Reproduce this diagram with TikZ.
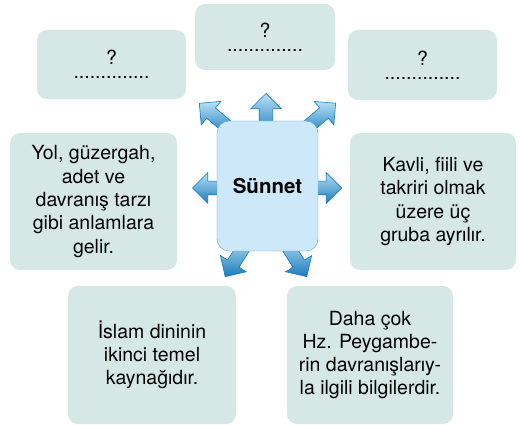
\documentclass[tikz,border=0pt]{standalone}
\usepackage{fontspec}
\setmainfont{TeX Gyre Heros}
\usepackage{tikz}
\usetikzlibrary{shapes,shapes.arrows}

\definecolor{boxfill}{HTML}{D5E8E6}
\definecolor{mainfill}{HTML}{CDE8F8}
\definecolor{mainline}{HTML}{4FA6D6}
\definecolor{arrowdark}{HTML}{1A7BBD}
\definecolor{arrowlight}{HTML}{B8E0F5}

\begin{document}
\begin{tikzpicture}[x=1pt,y=-1pt]
    \newcommand{\qdots}{?\\[-9pt]..............}
    \tikzstyle{box}=[
      rectangle,
      rounded corners=10pt,
      fill=boxfill,
      align=center,
      inner sep=0pt,
      font=\fontsize{19.5}{23.3}\selectfont,
    ]
    \tikzstyle{mainbox}=[
      rectangle,
      rounded corners=12pt,
      fill=mainfill,
      draw=mainline,
      thin,
      minimum width=101pt,
      minimum height=130pt,
      font=\fontsize{20.5}{24}\selectfont\bfseries,
    ]
    \tikzstyle{fatarrow}=[
      single arrow,
      anchor=tip,
      inner sep=6.5pt,
      minimum height=42pt,
      single arrow head extend=8.5pt,
      top color=arrowlight,
      bottom color=arrowdark,
      draw=arrowdark,
      semithick,
    ]

    \useasboundingbox (0,0) rectangle (520,425);

    \node[fatarrow,rotate=90] (a1) at (266,93) {};
    \node[fatarrow,rotate=140] (a2) at (199,103) {};
    \node[fatarrow,rotate=40] (a3) at (336,103) {};
    \node[fatarrow,rotate=180] (a4) at (192,188) {};
    \node[fatarrow,rotate=0] (a5) at (342,188) {};
    \node[fatarrow,rotate=-122] (a6) at (225,277) {};
    \node[fatarrow,rotate=-58] (a7) at (307,277) {};

    \node[mainbox] (sun) at (267.5,186) {Sünnet};

    \node[box,minimum width=149pt,minimum height=69pt] (q1) at (111.5,64.5) {\qdots};
    \node[box,minimum width=140pt,minimum height=66pt] (q2) at (265,37) {\qdots};
    \node[box,minimum width=149pt,minimum height=70pt] (q3) at (422.5,65) {\qdots};
    \node[box,minimum width=167pt,minimum height=137pt] (b1) at (93.5,201.5)
      {Yol, güzergah,\\adet ve\\davranış tarzı\\gibi anlamlara\\gelir.};
    \node[box,minimum width=166pt,minimum height=137pt] (b2) at (433,201.5)
      {Kavli, fiili ve\\takriri olmak\\üzere üç\\gruba ayrılır.};
    \node[box,minimum width=168pt,minimum height=138pt] (b3) at (152,355)
      {İslam dininin\\ikinci temel\\kaynağıdır.};
    \node[box,minimum width=166pt,minimum height=138pt] (b4) at (370,355)
      {Daha çok\\Hz. Peygambe-\\rin davranışlarıy-\\la ilgili bilgilerdir.};
\end{tikzpicture}
\end{document}
